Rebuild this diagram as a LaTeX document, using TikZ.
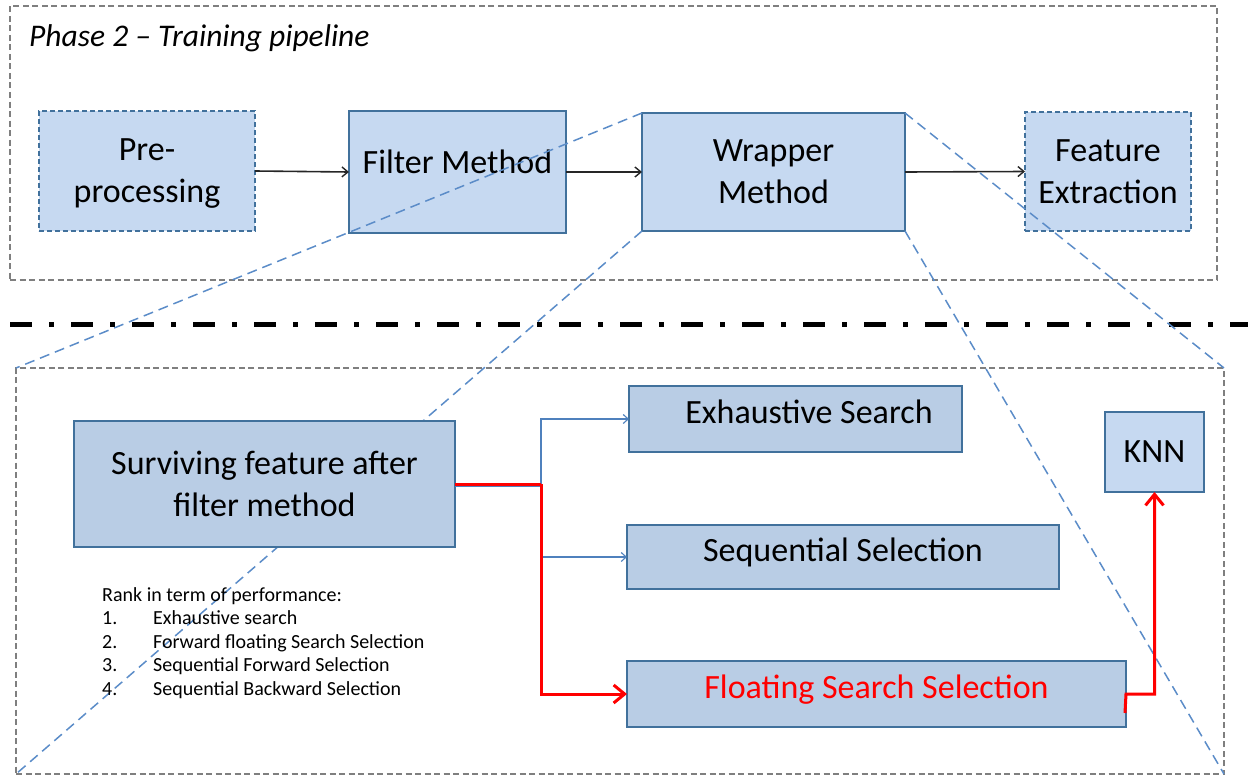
\documentclass[tikz,border=0pt]{standalone}
\usepackage{fontspec}
\setmainfont{Carlito}
\usetikzlibrary{arrows.meta}
\definecolor{fillA}{HTML}{C6D9F1}
\definecolor{fillB}{HTML}{B9CDE5}
\definecolor{edgeblue}{HTML}{41719C}
\definecolor{zoomblue}{HTML}{5B8CC8}
\definecolor{framegray}{HTML}{7F7F7F}
\definecolor{connblue}{HTML}{4F81BD}
\newcommand{\lowerby}[2]{\raisebox{-#1}[0pt][0pt]{#2}}
\begin{document}
\begin{tikzpicture}[x=1pt,y=-1pt,
  outer/.style={draw=framegray, line width=1.2pt, dash pattern=on 6pt off 3.5pt, inner sep=0pt, outer sep=0pt},
  boxA/.style={draw=edgeblue, line width=1.5pt, fill=fillA, inner sep=0pt, outer sep=0pt, align=center, font=\fontsize{34}{42}\selectfont},
  boxB/.style={boxA, fill=fillB},
  dashbox/.style={boxA, dash pattern=on 5pt off 3pt},
  zoomline/.style={draw=zoomblue, line width=1.5pt, dash pattern=on 10pt off 6pt},
  flow/.style={draw=black!85, line width=1.6pt, -{Straight Barb[length=6pt,width=10pt,line width=1.4pt]}},
  thinconn/.style={draw=connblue, line width=1.2pt},
  thinarrow/.style={thinconn, -{Straight Barb[length=5pt,width=9pt,line width=1.1pt]}},
  hot/.style={draw=red, line width=3pt},
  hotarrow/.style={hot, -{Straight Barb[length=11pt,width=18pt,line width=3pt]}},
  listtext/.style={anchor=base west, inner sep=0pt, font=\fontsize{20}{24}\selectfont}
]
\useasboundingbox (0,0) rectangle (1248,776);

% outer frames
\node[outer, minimum width=1207pt, minimum height=274pt] (upper) at (613.5,143) {};
\node[outer, minimum width=1208pt, minimum height=406pt] (lower) at (620,571) {};

% title
\node[anchor=base west, inner sep=0pt, font=\fontsize{31.5}{38}\selectfont\itshape] (title) at (29,47) {Phase 2 -- Training pipeline};

% dash-dot separator
\coordinate (sepL) at (10,324);
\coordinate (sepR) at (1248,324);
\draw[line width=5pt, dash pattern=on 22pt off 17pt on 5pt off 17pt] (sepL) -- (sepR);

% top pipeline
\node[dashbox, minimum width=216pt, minimum height=120pt] (pre) at (147,171) {\lowerby{8.5pt}{\begin{tabular}{@{}c@{}}Pre-\\[0pt]processing\end{tabular}}};
\node[boxA, minimum width=217pt, minimum height=122pt] (filt) at (457.5,172) {\lowerby{1pt}{Filter Method}};
\node[boxA, minimum width=263pt, minimum height=118pt] (wrap) at (773.5,172) {Wrapper\\Method};
\node[dashbox, minimum width=166pt, minimum height=119pt] (feat) at (1108,171.5) {Feature\\Extraction};

\draw[flow] (pre.east) -- (filt.west);
\draw[flow] (filt.east) -- (wrap.west);
\draw[flow] (wrap.east) -- (feat.west);

% zoom lines
\draw[zoomline] (wrap.north west) -- (lower.north west);
\draw[zoomline] (wrap.south west) -- (lower.south west);
\draw[zoomline] (wrap.north east) -- (lower.north east);
\draw[zoomline] (wrap.south east) -- (lower.south east);

% lower content
\node[boxB, minimum width=381pt, minimum height=126pt] (surv) at (264.5,484) {Surviving feature after\\filter method};
\node[boxB, minimum width=333pt, minimum height=66pt] (exh) at (795.5,419) {\lowerby{4pt}{\hspace*{27pt}Exhaustive Search}};
\node[boxB, minimum width=432pt, minimum height=64pt] (seq) at (843,557) {\lowerby{4pt}{Sequential Selection}};
\node[boxB, minimum width=499pt, minimum height=66pt, text=red] (flt) at (876.5,694) {\lowerby{4pt}{Floating Search Selection}};
\node[boxA, minimum width=99pt, minimum height=80pt] (knn) at (1154.5,452) {KNN};

% connectors
\coordinate (jx) at (541,484);
\draw[thinconn] ([yshift=-2pt]surv.east) -- ([yshift=-2pt]jx);
\draw[thinarrow] ([yshift=-2pt]jx) |- (exh.west);
\draw[thinarrow] ([yshift=-2pt]jx) |- (seq.west);
\draw[hot] (surv.east) -- (jx);
\draw[hotarrow] (jx) |- (flt.west);
\coordinate (fs) at (1125,713);
\draw[hotarrow] (fs) -- (flt.east) -| (knn.south);

% ranking list
\node[listtext] (rk) at (102,601) {Rank in term of performance:};
\node[listtext] (n1) at (102,624.5) {1.};
\node[listtext] (t1) at (153,624.5) {Exhaustive search};
\node[listtext] (n2) at (102,648) {2.};
\node[listtext] (t2) at (153,648) {Forward floating Search Selection};
\node[listtext] (n3) at (102,671.5) {3.};
\node[listtext] (t3) at (153,671.5) {Sequential Forward Selection};
\node[listtext] (n4) at (102,695) {4.};
\node[listtext] (t4) at (153,695) {Sequential Backward Selection};
\end{tikzpicture}
\end{document}
